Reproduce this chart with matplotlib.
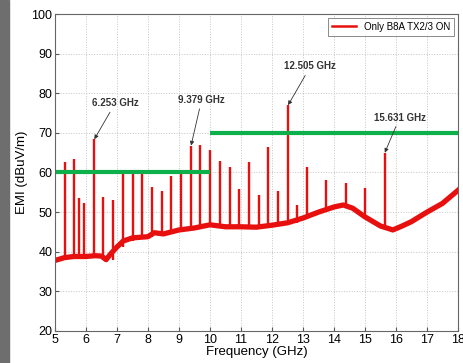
import matplotlib.pyplot as plt
from matplotlib.patches import Rectangle

# noise floor of the measurement (GHz, dBuV/m)
floor_f = [5.0, 5.3, 5.6, 6.0, 6.3, 6.5, 6.65, 6.8, 7.0, 7.2, 7.5, 8.0, 8.2, 8.5,
           9.0, 9.5, 10.0, 10.5, 11.0, 11.5, 12.0, 12.5, 13.0, 13.5, 14.0, 14.3,
           14.6, 15.0, 15.5, 15.9, 16.2, 16.5, 17.0, 17.5, 18.0]
floor_db = [37.8, 38.5, 38.8, 38.8, 39.0, 38.9, 38.0, 39.5, 41.2, 42.7, 43.5, 43.8, 44.8, 44.5,
            45.5, 46.0, 46.8, 46.3, 46.3, 46.2, 46.7, 47.3, 48.5, 50.0, 51.3, 51.8,
            51.0, 48.8, 46.5, 45.5, 46.5, 47.6, 50.0, 52.2, 55.5]

# harmonic spikes
spike_f = [5.314, 5.627, 5.78, 5.94, 6.253, 6.565, 6.878, 7.19, 7.503, 7.816, 8.128,
           8.44, 8.753, 9.066, 9.379, 9.69, 10.0, 10.316, 10.63, 10.94, 11.25, 11.57,
           11.88, 12.19, 12.505, 12.82, 13.13, 13.755, 14.38, 15.0, 15.631]
spike_db = [62.7, 63.3, 53.5, 52.4, 68.4, 53.7, 53.1, 59.5, 59.5, 59.8, 56.3,
            55.4, 59.1, 59.5, 66.8, 66.9, 65.7, 62.9, 61.5, 55.8, 62.7, 54.2,
            66.5, 55.3, 77.0, 51.8, 61.5, 58.1, 57.3, 56.2, 65.0]

# limit lines
limit_f = [[5, 10], [10, 18]]
limit_db = [60, 70]

# annotations: label, text position, arrow tip
ann_labels = ['6.253 GHz', '9.379 GHz', '12.505 GHz', '15.631 GHz']
ann_text = [(6.94, 76.2), (9.73, 77.1), (13.24, 85.5), (16.12, 72.6)]
ann_tip = [(6.27, 68.4), (9.39, 66.8), (12.52, 77.0), (15.64, 65.0)]

plt.rcParams['font.family'] = ['Liberation Sans', 'DejaVu Sans']

fig = plt.figure(figsize=(4.64, 3.63), dpi=100)
ax = fig.add_axes([0.1185, 0.0882, 0.8685, 0.8732])

red = '#e8100f'
ax.plot(floor_f, floor_db, color=red, lw=3.8, solid_joinstyle='round', label='Only B8A TX2/3 ON')
base = [min(floor_db[i] for i in range(len(floor_f)) if abs(floor_f[i] - f) < 0.35) for f in spike_f]
ax.vlines(spike_f, base, spike_db, color=red, lw=1.7)

for (f0, f1), v in zip(limit_f, limit_db):
    ax.plot([f0, f1], [v, v], color='#0db04b', lw=3, solid_capstyle='butt')

for lab, tp, tip in zip(ann_labels, ann_text, ann_tip):
    ax.annotate(lab, xy=tip, xytext=tp, ha='center', va='bottom', fontsize=7,
                fontweight='bold', color='#333333',
                arrowprops=dict(arrowstyle='-|>', color='#333333', lw=0.6,
                                mutation_scale=6, shrinkA=1, shrinkB=0))

ax.set_xlim(5, 18)
ax.set_ylim(20, 100)
ax.set_xticks(range(5, 19))
ax.set_yticks(range(20, 101, 10))
ax.tick_params(direction='in', labelsize=9, length=3, color='#555555', pad=2)
ax.grid(True, linestyle=':', color='#c4c4c4', lw=0.7)
for s in ax.spines.values():
    s.set_color('#666666')
    s.set_linewidth(0.8)

ax.set_xlabel('Frequency (GHz)', fontsize=9.5, labelpad=0)
ax.set_ylabel('EMI (dBuV/m)', fontsize=9.5, labelpad=2)

leg = ax.legend(loc='upper right', fontsize=7, frameon=True, fancybox=False,
                handlelength=2.5, borderaxespad=0.4)
leg.get_frame().set_edgecolor('#555555')
leg.get_frame().set_linewidth(0.6)
leg.get_lines()[0].set_linewidth(1.8)

# dark photo edge at the left of the picture
fig.patches.append(Rectangle((0, 0), 9 / 464, 1, transform=fig.transFigure,
                             color='#6e6e6e', zorder=-1))

fig.savefig('out.png', dpi=100)
